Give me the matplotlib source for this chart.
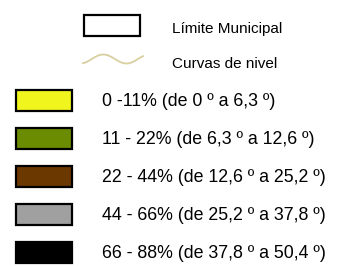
import numpy as np
import matplotlib.pyplot as plt
from matplotlib.patches import Rectangle

plt.rcParams['font.family'] = ['Liberation Sans', 'DejaVu Sans']

top_labels = ["Límite Municipal", "Curvas de nivel"]
slope_labels = ["0 -11% (de 0 º a 6,3 º)",
                "11 - 22% (de 6,3 º a 12,6 º)",
                "22 - 44% (de 12,6 º a 25,2 º)",
                "44 - 66% (de 25,2 º a 37,8 º)",
                "66 - 88% (de 37,8 º a 50,4 º)"]
slope_colors = ["#F0F51E", "#6B8C00", "#6B3800", "#A0A0A0", "#000000"]
contour_color = "#D9CFA0"

fig = plt.figure(figsize=(3.42, 2.67), dpi=100)
ax = fig.add_axes([0, 0, 1, 1])
ax.set_xlim(0, 342)
ax.set_ylim(267, 0)
ax.axis("off")

# municipal boundary
ax.add_patch(Rectangle((83.5, 14.5), 56, 21.5, facecolor="white",
                       edgecolor="black", linewidth=1.6))
ax.text(172, 33, top_labels[0], fontsize=11, va="baseline")

# contour line symbol
t = np.linspace(0, 1, 60)
ax.plot(83 + 60 * t, 59 - 4.5 * np.sin(2 * np.pi * 1.3 * t - 1.2),
        color=contour_color, linewidth=1.3)
ax.text(172, 67.5, top_labels[1], fontsize=11, va="baseline")

# slope classes
y0, step = 100.5, 38
for i, (lab, col) in enumerate(zip(slope_labels, slope_colors)):
    yc = y0 + i * step
    ax.add_patch(Rectangle((15.5, yc - 10.5), 56, 21, facecolor=col,
                           edgecolor="black", linewidth=1.6))
    ax.text(102, yc + 5.5, lab, fontsize=12.8, va="baseline")

fig.savefig("out.png", dpi=100)
plt.close(fig)
